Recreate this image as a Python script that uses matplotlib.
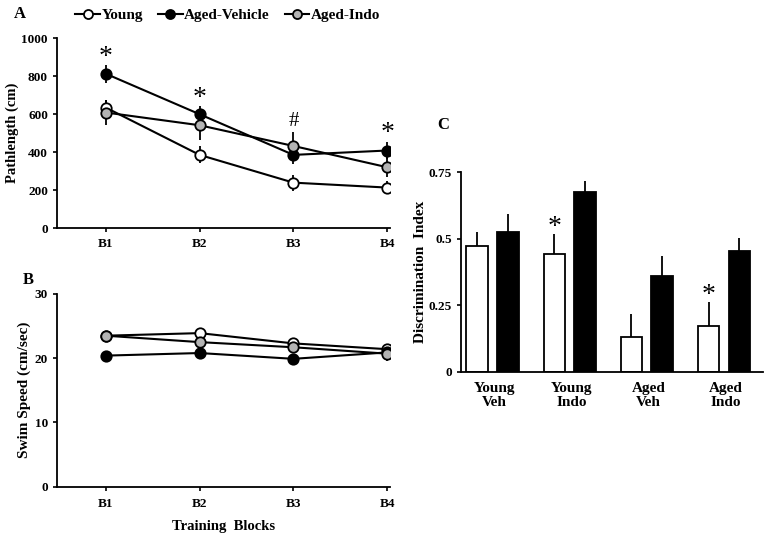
import matplotlib.pyplot as plt
import numpy as np

plt.rcParams['font.family'] = ['Liberation Serif', 'DejaVu Serif']
plt.rcParams['font.weight'] = 'bold'
plt.rcParams['axes.labelweight'] = 'bold'

blocks = ['B1', 'B2', 'B3', 'B4']

# panel A: pathlength (cm)
young_path = [634, 385, 239, 213]
young_path_err = [40, 45, 42, 32]
vehicle_path = [812, 599, 385, 408]
vehicle_path_err = [48, 45, 48, 47]
indo_path = [608, 541, 432, 320]
indo_path_err = [65, 77, 76, 53]
path_marks = ['*', '*', '#', '*']
path_mark_y = [895, 680, 560, 500]

# panel B: swim speed (cm/sec)
young_speed = [23.5, 23.9, 22.3, 21.4]
young_speed_err = [0.6, 0.7, 0.8, 0.7]
vehicle_speed = [20.4, 20.8, 19.9, 20.9]
vehicle_speed_err = [0.5, 0.5, 0.6, 0.6]
indo_speed = [23.5, 22.5, 21.7, 20.7]
indo_speed_err = [0.8, 0.6, 0.7, 1.2]

# panel C: discrimination index
groups = ['Young\nVeh', 'Young\nIndo', 'Aged\nVeh', 'Aged\nIndo']
white_vals = [0.473, 0.443, 0.131, 0.172]
white_err = [0.054, 0.074, 0.087, 0.090]
black_vals = [0.524, 0.675, 0.362, 0.455]
black_err = [0.068, 0.041, 0.075, 0.049]
bar_marks = ['', '*', '', '*']

fig = plt.figure(figsize=(7.71, 5.43), dpi=100)
axA = fig.add_axes([0.0739, 0.580, 0.432, 0.350])
axB = fig.add_axes([0.0739, 0.1037, 0.432, 0.355])
axC = fig.add_axes([0.598, 0.315, 0.391, 0.368])

x = np.arange(1, 5)
styles = [('Young', 'white'), ('Aged-Vehicle', 'black'), ('Aged-Indo', '#b4b4b4')]

def draw_lines(ax, series, errs):
    handles = []
    for (name, fc), y, e in zip(styles, series, errs):
        ax.errorbar(x, y, yerr=e, fmt='none', ecolor='black', elinewidth=1.3, capsize=0, zorder=2)
        h, = ax.plot(x, y, '-o', color='black', lw=1.5, mfc=fc, mec='black', mew=1.3, ms=7.5, label=name, zorder=3)
        handles.append(h)
    return handles

def style_axis(ax):
    for s in ['top', 'right']:
        ax.spines[s].set_visible(False)
    for s in ['left', 'bottom']:
        ax.spines[s].set_linewidth(1.3)
    ax.tick_params(labelsize=9.5, width=1.2, length=3)

handles = draw_lines(axA, [young_path, vehicle_path, indo_path],
                     [young_path_err, vehicle_path_err, indo_path_err])
axA.set_xlim(0.48, 4.03)
axA.set_ylim(0, 1000)
axA.set_yticks(np.arange(0, 1001, 200))
axA.set_xticks(x)
axA.set_xticklabels(blocks)
axA.set_ylabel('Pathlength (cm)', fontsize=10.5, labelpad=2)
style_axis(axA)
axA.tick_params(axis='x', pad=4)
for xi, m, my in zip(x, path_marks, path_mark_y):
    axA.text(xi, my, m, ha='center', va='center', fontsize=20 if m == '*' else 15, fontweight='normal')

draw_lines(axB, [young_speed, vehicle_speed, indo_speed],
           [young_speed_err, vehicle_speed_err, indo_speed_err])
axB.set_xlim(0.48, 4.03)
axB.set_ylim(0, 30)
axB.set_yticks([0, 10, 20, 30])
axB.set_xticks(x)
axB.set_xticklabels(blocks)
axB.set_ylabel('Swim Speed (cm/sec)', fontsize=11, labelpad=3)
axB.set_xlabel('Training  Blocks', fontsize=10.5, labelpad=7)
style_axis(axB)
axB.tick_params(axis='x', pad=5)

fig.legend(handles=handles, loc='center left', bbox_to_anchor=(0.08, 0.972), ncol=3,
           frameon=False, fontsize=11, handlelength=1.6, handletextpad=0.1, columnspacing=1.0,
           markerscale=6.5 / 7.5)

g = np.arange(len(groups))
w = 0.28
axC.bar(g - 0.2, white_vals, w, color='white', edgecolor='black', linewidth=1.3)
axC.bar(g + 0.2, black_vals, w, color='black', edgecolor='black', linewidth=1.3)
axC.errorbar(g - 0.2, white_vals, yerr=[np.zeros(4), white_err], fmt='none', ecolor='black', elinewidth=1.3, capsize=0)
axC.errorbar(g + 0.2, black_vals, yerr=[np.zeros(4), black_err], fmt='none', ecolor='black', elinewidth=1.3, capsize=0)
for gi, m, v, e in zip(g, bar_marks, white_vals, white_err):
    if m:
        axC.text(gi - 0.2, v + e + 0.025, m, ha='center', va='center', fontsize=20, fontweight='normal')
axC.set_xlim(-0.41, 3.5)
axC.set_ylim(0, 0.75)
axC.set_yticks([0, 0.25, 0.5, 0.75])
axC.set_yticklabels(['0', '0.25', '0.5', '0.75'])
axC.set_xticks(g + 0.02)
axC.set_xticklabels(groups, linespacing=1.1)
axC.set_ylabel('Discrimination  Index', fontsize=11, labelpad=1)
style_axis(axC)
axC.tick_params(axis='x', length=0, labelsize=11, pad=7)

fig.text(0.018, 0.975, 'A', fontsize=12, va='center')
fig.text(0.030, 0.485, 'B', fontsize=12, va='center')
fig.text(0.567, 0.77, 'C', fontsize=12, va='center')

fig.savefig('out.png', dpi=100)
